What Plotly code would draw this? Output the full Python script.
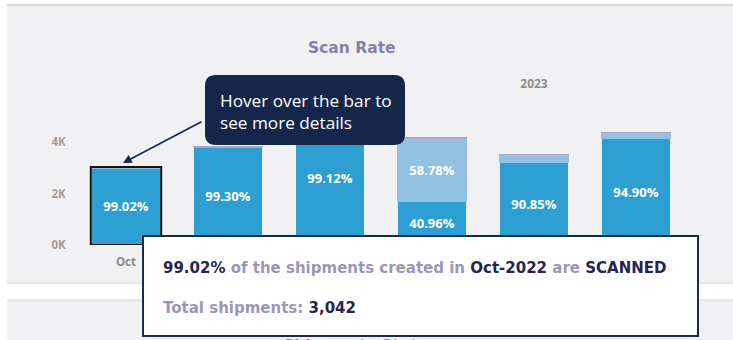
import plotly.graph_objects as go

# ---- data -------------------------------------------------------------
months = ["Oct", "Nov", "Dec", "Jan", "Feb", "Mar"]
year_labels = ["2022", "2023"]
year_centers = [1, 4]          # middle month of each year group
totals = [3042, 3834, 5290, 4175, 3535, 4395]
scanned_pct = [99.02, 99.30, 99.12, 40.96, 90.85, 94.90]
not_scanned_pct = [0.70, 0.50, 0.60, 58.78, 8.90, 4.90]
other_pct = [0.28, 0.20, 0.28, 0.26, 0.25, 0.20]
show_not_scanned_label = [False, False, False, True, False, False]
tick_vals = [0, 2000, 4000]
tick_text = ["0K", "2K", "4K"]
hover_month = "Oct-2022"

# ---- figure geometry --------------------------------------------------
W, H = 733, 340
ML, MR, MT, MB = 75, 46, 104, 95
PW, PH = W - ML - MR, H - MT - MB


def px(x):
    return (x - ML) / PW


def py(y):
    return (H - MB - y) / PH


FONT = "Open Sans"
WIDE = "DejaVu Sans"
DARK = "#2d9fd2"
LIGHT = "#92c1e1"
GREY = "#aca7c0"
NAVY = "#15264b"
INK = "#28234f"
LAV = "#9c96b6"

scanned = [t * p / 100 for t, p in zip(totals, scanned_pct)]
not_scanned = [t * p / 100 for t, p in zip(totals, not_scanned_pct)]
other = [t * p / 100 for t, p in zip(totals, other_pct)]

fig = go.Figure()
fig.add_bar(
    x=months, y=scanned, name="Scanned", marker_color=DARK,
    marker_line_width=0,
    text=[f"{p:.2f}%" for p in scanned_pct],
    textposition="inside", insidetextanchor="middle", textangle=0,
    textfont=dict(family=FONT, size=13, color="white", weight=700),
    hoverinfo="skip",
)
fig.add_bar(
    x=months, y=not_scanned, name="Not scanned", marker_color=LIGHT,
    marker_line=dict(color=LIGHT, width=1.5),
    text=[f"{p:.2f}%" if s else "" for p, s in zip(not_scanned_pct, show_not_scanned_label)],
    textposition="inside", insidetextanchor="middle", textangle=0,
    textfont=dict(family=FONT, size=13, color="white", weight=700),
    hoverinfo="skip",
)
fig.add_bar(
    x=months, y=other, name="Other", marker_color=GREY,
    marker_line=dict(color=GREY, width=1.2),
    hoverinfo="skip",
)

shapes = [
    # upper card
    dict(type="rect", xref="paper", yref="paper", x0=px(7), x1=px(W), y0=py(283), y1=py(5),
         fillcolor="#f1f1f4", line_width=0, layer="below"),
    dict(type="line", xref="paper", yref="paper", x0=px(7), x1=px(W), y0=py(5), y1=py(5),
         line=dict(color="#d9d9dc", width=2), layer="below"),
    dict(type="line", xref="paper", yref="paper", x0=px(7), x1=px(W), y0=py(283), y1=py(283),
         line=dict(color="#e3e3e6", width=1.5), layer="below"),
    # lower card
    dict(type="rect", xref="paper", yref="paper", x0=px(7), x1=px(W), y0=py(H), y1=py(300),
         fillcolor="#f1f1f4", line_width=0, layer="below"),
    dict(type="line", xref="paper", yref="paper", x0=px(7), x1=px(W), y0=py(300), y1=py(300),
         line=dict(color="#e0e0e3", width=1.5), layer="below"),
    # highlighted bar outline
    dict(type="rect", xref="x", yref="y", x0=-0.345, x1=0.345, y0=0, y1=totals[0],
         line=dict(color="#111111", width=2), fillcolor="rgba(0,0,0,0)", layer="above"),
]

# rounded callout box
bx0, bx1, by0, by1, r = 205, 405, 75, 145, 11
path = (
    f"M {px(bx0 + r)},{py(by0)} L {px(bx1 - r)},{py(by0)} "
    f"Q {px(bx1)},{py(by0)} {px(bx1)},{py(by0 + r)} "
    f"L {px(bx1)},{py(by1 - r)} Q {px(bx1)},{py(by1)} {px(bx1 - r)},{py(by1)} "
    f"L {px(bx0 + r)},{py(by1)} Q {px(bx0)},{py(by1)} {px(bx0)},{py(by1 - r)} "
    f"L {px(bx0)},{py(by0 + r)} Q {px(bx0)},{py(by0)} {px(bx0 + r)},{py(by0)} Z"
)
shapes.append(dict(type="path", xref="paper", yref="paper", path=path,
                   fillcolor=NAVY, line_width=0, layer="above"))

# tooltip panel
shapes.append(dict(type="rect", xref="paper", yref="paper", x0=px(143), x1=px(698),
                   y0=py(336), y1=py(236), fillcolor="white",
                   line=dict(color="#1b2a4e", width=2), layer="above"))

annotations = [
    dict(text="<b>Scan Rate</b>", xref="paper", yref="paper", x=px(352), y=py(48),
         xanchor="center", yanchor="middle",
         showarrow=False, font=dict(family=WIDE, size=15.5, color="#8580a8")),
    # callout arrow
    dict(text="", xref="x", yref="y", x=-0.03, y=totals[0], yshift=4,
         showarrow=True, arrowhead=2, arrowsize=1.1, arrowwidth=1.6, arrowcolor=NAVY,
         axref="pixel", ayref="pixel", ax=80, ay=-42, standoff=0),
    dict(text="Hover over the bar to<br>see more details", xref="paper", yref="paper",
         x=px(218), y=py(111), xanchor="left", yanchor="middle", align="left",
         showarrow=False, font=dict(family=FONT, size=17.2, color="white")),
    dict(text=(f"<b><span style='color:{INK}'>{scanned_pct[0]:.2f}%</span> "
               f"<span style='color:{LAV}'>of the shipments created in</span> "
               f"<span style='color:{INK}'>{hover_month}</span> "
               f"<span style='color:{LAV}'>are</span> "
               f"<span style='color:{INK}'>SCANNED</span></b>"),
         xref="paper", yref="paper", x=px(161), y=py(268), xanchor="left", yanchor="middle",
         showarrow=False, font=dict(family=WIDE, size=15)),
    dict(text=(f"<b><span style='color:{LAV}'>Total shipments:</span> "
               f"<span style='color:{INK}'>{totals[0]:,}</span></b>"),
         xref="paper", yref="paper", x=px(161), y=py(308), xanchor="left", yanchor="middle",
         showarrow=False, font=dict(family=WIDE, size=15)),
    dict(text="<b>Shipments Status</b>", xref="paper", yref="paper", x=px(360), y=py(335),
         xanchor="center", yanchor="top", showarrow=False,
         font=dict(family=WIDE, size=15.5, color="#8580a8")),
]

fig.update_layout(
    width=W, height=H,
    margin=dict(l=ML, r=MR, t=MT, b=MB, pad=0),
    paper_bgcolor="white", plot_bgcolor="rgba(0,0,0,0)",
    barmode="stack", bargap=0.333,
    showlegend=False,
    shapes=shapes, annotations=annotations,
    xaxis=dict(type="category", range=[-0.5, 5.5], showgrid=False, zeroline=False,
               showline=False, ticks="outside", ticklen=6, tickcolor="rgba(0,0,0,0)",
               tickfont=dict(family=FONT, size=11.5, color="#8a8a8a", weight=700)),
    xaxis2=dict(overlaying="x", side="top", anchor="y", range=[-0.5, 5.5],
                tickmode="array", tickvals=year_centers, ticktext=year_labels,
                showgrid=False, zeroline=False, showline=False,
                ticks="outside", ticklen=10, tickcolor="rgba(0,0,0,0)",
                tickfont=dict(family=FONT, size=12, color="#8b8b8b", weight=700)),
    yaxis=dict(range=[0, 5500], tickmode="array", tickvals=tick_vals, ticktext=tick_text,
               showgrid=False, zeroline=False, showline=False,
               ticks="outside", ticklen=6, tickcolor="rgba(0,0,0,0)",
               tickfont=dict(family=FONT, size=11.5, color="#a59b93", weight=700)),
)

# invisible trace to keep the year axis in place
fig.add_scatter(x=year_centers, y=[0, 0], xaxis="x2", mode="markers",
                marker=dict(opacity=0), hoverinfo="skip", showlegend=False)

fig.write_html("out.html")
